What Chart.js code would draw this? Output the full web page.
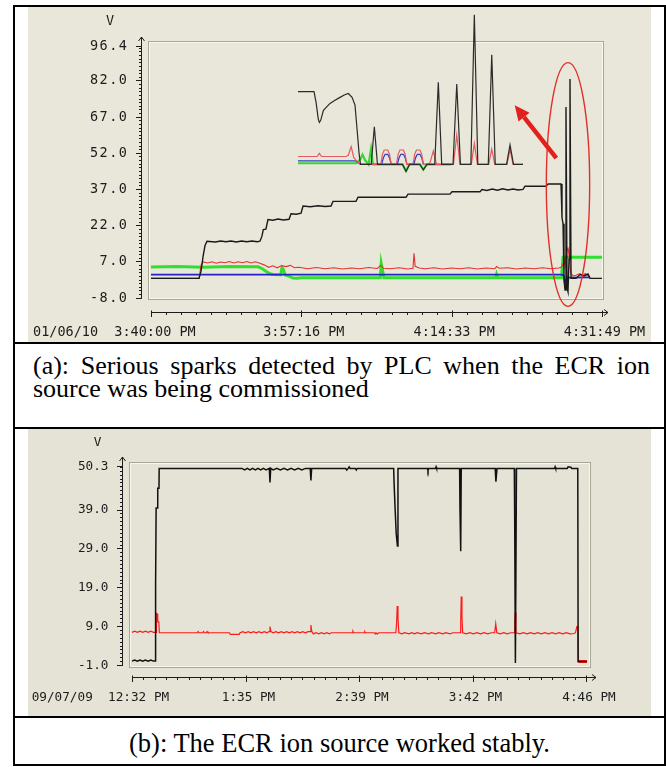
<!DOCTYPE html>
<html>
<head>
<meta charset="utf-8">
<script src="https://cdn.jsdelivr.net/npm/chart.js@4.4.0/dist/chart.umd.min.js"></script>
<style>
html, body { margin: 0; padding: 0; background: #fff; }
body { width: 666px; height: 767px; position: relative; overflow: hidden; }
.rule { position: absolute; background: #000; }
.panel { position: absolute; left: 28px; width: 623px; }
#panelA { top: 7px; height: 335px; background: #e9e7da; }
#panelB { top: 429px; height: 287px; background: #e4e3d5; }
.cap { position: absolute; font-family: "Liberation Serif", "Times New Roman", serif; color: #000; }
#capA { left: 33px; top: 355px; width: 617px; font-size: 26px; line-height: 22.5px; text-align: justify; text-align-last: left; }
#capB { left: 15px; top: 728px; width: 649px; font-size: 26.5px; line-height: 30px; text-align: center; }
</style>
</head>
<body>
<div class="rule" style="left:13px;top:5px;width:2px;height:761px"></div>
<div class="rule" style="left:664px;top:5px;width:2px;height:761px"></div>
<div class="rule" style="left:13px;top:5px;width:653px;height:2px"></div>
<div class="rule" style="left:13px;top:342px;width:653px;height:2px"></div>
<div class="rule" style="left:13px;top:427px;width:653px;height:2px"></div>
<div class="rule" style="left:13px;top:716px;width:653px;height:2px"></div>
<div class="rule" style="left:13px;top:764px;width:653px;height:2px"></div>

<div class="panel" id="panelA"><canvas id="chartA" width="623" height="335"></canvas></div>
<div class="cap" id="capA">(a): Serious sparks detected by PLC when the ECR ion source was being commissioned</div>
<div class="panel" id="panelB"><canvas id="chartB" width="623" height="287"></canvas></div>
<div class="cap" id="capB">(b): The ECR ion source worked stably.</div>

<script>
// ---- panel (a): minutes after 3:40:00 PM, volts ----
const dateA = "01/06/10";
const xTicksA = [0, 17.272, 34.544, 51.817];
const xLabelsA = ["3:40:00 PM", "3:57:16 PM", "4:14:33 PM", "4:31:49 PM"];
const yTicksA = [-8, 7, 22, 37, 52, 67, 82, 96.4];
const yLabelsA = ["-8.0", "7.0", "22.0", "37.0", "52.0", "67.0", "82.0", "96.4"];

const blackA = [[0,0],[5.52,0],[5.75,3],[5.98,9],[6.2,13.5],[6.43,15.4],[7.4,15.1],[8.0,15.5],[8.6,15.2],[9.2,15.5],
  [9.8,15.1],[10.4,15.5],[11.0,15.2],[11.6,15.5],[12.2,15.2],[12.52,15.4],[12.75,17.5],[12.9,20.2],[13.2,20.4],
  [13.44,24.4],[14.0,24.1],[14.6,24.6],[15.2,24.2],[15.86,24.5],[16.09,26.8],[16.7,26.6],[17.24,27.0],[17.47,30.0],
  [18.3,29.7],[19.2,30.1],[20.0,29.8],[20.68,30.0],[20.91,31.9],[23.55,31.9],[23.79,33.6],[29.3,33.6],[29.53,34.9],
  [34.35,34.9],[34.58,35.9],[37.8,35.9],[38.03,36.8],[38.6,36.4],[39.2,37.0],[39.8,36.5],[40.4,37.1],[41.0,36.6],
  [41.6,37.0],[42.2,36.6],[42.74,36.9],[42.97,38.2],[45.39,38.2],[45.62,39.1],[47.11,39.1],[47.22,25.2],[47.34,22.6],
  [47.45,-0.7],[47.57,-4.8],[47.68,71.0],[47.8,-4.0],[47.91,-5.5],[48.03,8.0],[48.14,82.6],[48.26,0],[48.83,0],
  [49.29,1.6],[49.75,1.0],[50.21,1.8],[50.44,0],[51.82,0]];
const redA = [[0,0],[5.52,0],[5.63,2.5],[5.75,5.5],[5.98,6.8],[6.5,6.4],[7.0,6.9],[7.5,6.3],[8.0,6.8],[8.5,6.5],[9.0,7.0],
  [9.5,6.4],[10.0,6.9],[10.5,6.5],[11.0,7.0],[11.5,6.4],[12.0,6.9],[12.5,6.3],[13.0,5.6],[13.5,4.6],[14.0,5.2],[14.5,4.4],
  [15.0,5.3],[15.5,4.9],[16.0,5.4],[16.5,4.4],[17.0,4.6],[18.0,4.0],[19.0,4.5],[20.0,4.0],[21.0,4.4],[22.0,3.9],[23.0,4.3],
  [24.0,4.0],[25.0,4.5],[26.0,4.1],[26.4,5.4],[26.7,4.2],[27.5,4.0],[28.5,4.4],[29.5,3.9],[30.1,4.2],[30.22,10.4],[30.35,5.0],
  [30.8,4.3],[31.5,4.0],[32.5,4.4],[33.5,3.9],[34.5,4.3],[35.5,4.0],[36.5,4.4],[37.5,3.9],[38.5,4.3],[39.5,4.0],[39.7,4.9],
  [40.0,4.2],[41.0,4.4],[42.0,3.9],[43.0,4.3],[44.0,4.0],[45.0,4.4],[46.0,4.0],[46.8,4.3],[47.11,4.5],[47.34,6.0],[47.45,9.0],
  [47.57,5.0],[47.8,12.0],[47.91,12.9],[48.03,9.5],[48.14,5.0],[48.26,2.0],[48.5,1.0],[48.83,1.3],[49.29,2.0],[49.6,1.0],
  [49.9,2.0],[50.21,1.2],[50.44,0.5]];
const blueA = [[0,1.6],[47.22,1.6],[47.45,1.0],[47.57,-2.5],[47.8,0.3],[50.44,0.4]];
const greenA = [[0,4.7],[3,4.9],[6,4.6],[9,4.9],[12.3,4.8],[12.75,4.1],[13.2,3.0],[13.6,2.0],[14.0,1.6],[14.9,1.5],[15.05,4.4],
  [15.2,3.8],[15.4,1.5],[15.9,0.8],[16.3,0.2],[16.8,0.1],[17.3,0.3],[26.35,0.3],[26.45,6.2],[26.6,3.5],[26.75,0.3],[39.6,0.3],
  [39.7,1.6],[39.8,0.3],[47.11,0.3],[47.22,3.0],[47.34,8.8],[51.82,8.8]];

// inset (zoomed view of the sparks), drawn in the same axes units
const insetBlack = [[16.89,77.4],[18.73,77.4],[18.96,73.0],[19.22,66.0],[19.34,64.6],[19.5,65.5],[19.8,69.5],[19.99,70.3],
  [20.57,72.5],[21.14,73.8],[21.72,75.0],[22.2,76.0],[22.67,76.6],[23.1,75.0],[23.44,71.8],[23.67,62.0],[23.9,52.0],
  [24.07,47.2],[25.3,47.2],[25.66,62.8],[26.02,47.2],[28.9,47.2],[29.3,44.3],[29.7,47.2],[30.9,47.2],[31.29,45.0],
  [31.7,47.2],[32.6,47.2],[33.01,81.2],[33.4,47.2],[34.7,47.2],[35.13,80.5],[35.55,47.2],[36.75,47.2],[37.15,109.2],
  [37.55,47.2],[38.75,47.2],[39.15,92.6],[39.55,47.2],[40.85,47.2],[41.25,55.3],[41.65,47.2],[42.74,47.2]];
const insetRed = [[16.89,50.5],[19.1,50.5],[19.34,51.8],[19.6,50.5],[22.4,50.5],[22.67,51.0],[23.0,54.6],[23.3,50.0],
  [23.67,48.5],[24.07,47.2],[26.4,47.2],[26.6,51.5],[26.8,53.2],[27.2,53.2],[27.4,51.5],[27.6,47.2],[28.2,47.2],[28.4,51.5],
  [28.6,53.2],[29.0,53.2],[29.2,51.5],[29.4,47.2],[30.1,47.2],[30.3,51.5],[30.5,53.2],[30.9,53.2],[31.1,51.5],[31.3,47.2],
  [32.0,47.2],[32.44,52.8],[32.8,47.2],[34.75,47.2],[35.13,59.4],[35.5,47.2],[36.8,47.2],[37.15,55.9],[37.5,47.2],
  [38.8,47.2],[39.15,53.6],[39.5,47.2],[40.9,47.2],[41.25,53.4],[41.6,47.2],[42.74,47.2]];
const insetBlue = [[16.89,48.7],[23.5,48.7],[24.07,47.2],[26.5,47.2],[26.7,50.0],[26.9,51.4],[27.2,51.4],[27.4,50.0],
  [27.6,47.2],[28.3,47.2],[28.5,50.0],[28.7,51.4],[29.0,51.4],[29.2,50.0],[29.4,47.2],[30.2,47.2],[30.4,50.0],[30.6,51.4],
  [30.9,51.4],[31.1,50.0],[31.3,47.2],[32.0,47.2]];
const insetGreen = [[16.89,47.7],[23.6,47.7],[24.07,49.5],[24.3,51.3],[24.6,49.0],[25.0,47.2],[25.28,53.6],[25.5,47.2],
  [28.9,47.2],[29.3,44.5],[29.7,47.2],[30.9,47.2],[31.29,45.0],[31.7,47.2],[34.5,47.2]];

// ---- panel (b): minutes after 12:32 PM, volts ----
const dateB = "09/07/09";
const xTicksB = [0, 63.5, 127, 190.5, 254];
const xLabelsB = ["12:32 PM", "1:35 PM", "2:39 PM", "3:42 PM", "4:46 PM"];
const yTicksB = [-1, 9, 19, 29, 39, 50.3];
const yLabelsB = ["-1.0", "9.0", "19.0", "29.0", "39.0", "50.3"];

const blackB = [[0,0],[1.5,0.3],[3,0],[4.5,0.3],[6,0],[7.5,0.3],[9,0],[10.5,0.3],[12,0],[12.87,0],[13.0,19.6],[13.4,19.6],
  [13.5,39.4],[14.3,39.4],[14.4,44.5],[15.1,44.5],[15.2,49.6],[61.5,49.6],[63,49.2],[64.5,49.6],[66,49.2],[67.5,49.6],
  [69,49.2],[70.5,49.6],[72,49.2],[73.5,49.6],[75,49.2],[76.8,49.6],[77.2,46.0],[77.6,49.6],[79,49.2],[81,49.6],[83,49.2],
  [85,49.6],[87,49.2],[89,49.6],[91,49.2],[93,49.6],[95,49.2],[97,49.6],[99.7,49.6],[100.1,46.5],[100.5,49.6],[119.5,49.6],
  [120.2,49.2],[120.9,49.6],[121.5,50.0],[122,49.6],[125,49.6],[125.5,49.2],[126,49.6],[146.4,49.6],[146.6,46.2],
  [147.2,39.3],[147.8,32.9],[148.5,29.6],[148.8,49.6],[165.3,49.6],[165.6,49.0],[165.9,49.6],[169.8,49.6],[170.1,50.0],
  [170.4,49.6],[183.3,49.6],[183.5,39.0],[183.9,28.3],[184.2,49.6],[203.2,49.6],[203.6,46.2],[204.2,49.6],[213.9,49.6],
  [214.1,37.2],[214.5,-0.5],[215.1,49.6],[236.4,49.6],[236.7,50.0],[237,49.6],[243.5,49.6],[244,50.0],[245.5,49.9],
  [246,49.6],[249.4,49.6],[249.6,-0.1],[254.5,-0.1]];
const redB = [[0,7.4],[1.5,7.7],[3,7.4],[4.5,7.7],[6,7.4],[7.5,7.7],[9,7.4],[10.5,7.7],[12,7.4],[13.5,7.4],[13.7,12.3],
  [14.2,12.1],[14.4,10.1],[15.0,10.1],[15.3,7.3],[36.5,7.3],[37,7.6],[37.5,7.3],[39.5,7.3],[40,7.6],[40.5,7.3],[41.5,7.3],
  [42,7.6],[42.5,7.3],[54.5,7.3],[55,6.9],[60,6.9],[60.5,7.3],[62,7.6],[63.5,7.3],[65,7.6],[66.5,7.3],[68,7.6],[69.5,7.3],
  [71,7.6],[72.5,7.3],[74,7.6],[75.5,7.3],[76.7,7.6],[77.2,8.9],[77.7,7.6],[79,7.3],[80.5,7.6],[82,7.3],[83.5,7.6],[85,7.3],
  [86.5,7.6],[88,7.3],[89.5,7.6],[91,7.3],[92.5,7.6],[94,7.3],[95.5,7.6],[97,7.3],[98.5,7.6],[99.6,7.6],[100.1,9.3],
  [100.6,7.6],[101.5,7.0],[103,7.3],[104.5,7.0],[106,7.3],[107.5,7.0],[109,7.3],[110.5,7.0],[111.5,7.3],[123.2,7.3],
  [123.6,7.7],[124,7.3],[129.8,7.3],[130.2,7.6],[130.6,7.3],[135.5,7.3],[136,7.0],[136.5,7.3],[137.5,7.0],[138,7.3],
  [147.6,7.3],[148.0,9.5],[148.4,14.2],[148.8,11.0],[149.3,7.3],[151,7.0],[152.5,7.3],[155,7.0],[156.5,7.3],[158,7.0],
  [159.5,7.3],[162,7.0],[163.5,7.3],[166,7.0],[167.5,7.3],[170,7.0],[171.5,7.3],[174,7.0],[175.5,7.3],[178,7.0],[179.5,7.3],
  [183.6,7.3],[183.9,10.0],[184.2,16.6],[184.6,11.5],[185.0,7.3],[187,7.0],[189,7.3],[191,7.0],[193,7.3],[195,7.0],[197,7.3],
  [199,7.0],[201,7.3],[202.9,7.3],[203.5,9.6],[204.1,7.3],[206,7.0],[208,7.3],[210,7.0],[212,7.3],[213.8,7.3],[214.1,10.0],
  [214.4,12.5],[214.8,7.3],[217,7.0],[219,7.3],[221,7.0],[223,7.3],[225,7.0],[227,7.3],[229,7.0],[231,7.3],[233,7.0],
  [235,7.3],[237,7.0],[239,7.3],[241,7.0],[243,7.3],[245,7.0],[247.6,7.1],[248.2,7.5],[248.9,8.9],[249.4,8.9],[249.6,-0.1],
  [254.5,-0.1]];

const pts = arr => arr.map(p => ({ x: p[0], y: p[1] }));

// axes drawn in the style of the SCADA trend window, positioned from the chart scales
const frame = {
  id: "frame",
  beforeDatasetsDraw(chart, args, o) {
    const { ctx, chartArea: a } = chart;
    const sx = chart.scales.x, sy = chart.scales.y;
    ctx.save();
    const L = Math.round(a.left - o.box[0]), T = Math.round(a.top - o.box[1]);
    const R = Math.round(a.right + o.box[2]), B = Math.round(a.bottom + o.box[3]);
    ctx.lineWidth = 1;
    ctx.strokeStyle = "#a7a697";
    ctx.strokeRect(L + 0.5, T + 0.5, R - L, B - T);
    ctx.strokeStyle = "#f8f7f0";
    ctx.strokeRect(L + 1.5, T + 1.5, R - L - 2, B - T - 2);

    ctx.strokeStyle = "#1c1c1c";
    ctx.fillStyle = "#1c1c1c";
    ctx.font = o.fontSize + "px 'DejaVu Sans Mono', monospace";

    // y axis
    const ax = Math.round(a.left - o.yGap) + 0.5;
    const yTop = a.top - o.arrowTop;
    ctx.beginPath();
    ctx.moveTo(ax, a.bottom + 1);
    ctx.lineTo(ax, yTop);
    ctx.moveTo(ax - 3, yTop + 4); ctx.lineTo(ax, yTop); ctx.lineTo(ax + 3, yTop + 4);
    for (let k = 0; ; k++) {
      const v = sy.min + k * o.yMinor;
      if (v > sy.max + 1e-6) break;
      const p = Math.round(sy.getPixelForValue(v)) + 0.5;
      ctx.moveTo(ax - 2.5, p); ctx.lineTo(ax, p);
    }
    o.yTicks.forEach(v => {
      const p = Math.round(sy.getPixelForValue(v)) + 0.5;
      ctx.moveTo(ax - 5.5, p); ctx.lineTo(ax, p);
    });
    ctx.stroke();
    ctx.textAlign = "right";
    ctx.textBaseline = "middle";
    ctx.letterSpacing = o.yLetter + "px";
    o.yTicks.forEach((v, i) => ctx.fillText(o.yLabels[i], ax - o.yLabelGap + o.yLetter, sy.getPixelForValue(v) + 0.5));
    ctx.letterSpacing = "0px";
    ctx.textAlign = "center";
    ctx.fillText("V", ax + o.vPos[0], a.top + o.vPos[1]);

    // x axis
    const ay = Math.round(a.bottom + o.xGap) + 0.5;
    const xEnd = a.right + o.xArrow;
    ctx.beginPath();
    ctx.moveTo(a.left, ay); ctx.lineTo(xEnd, ay);
    ctx.moveTo(xEnd - 4, ay - 3); ctx.lineTo(xEnd, ay); ctx.lineTo(xEnd - 4, ay + 3);
    const step = (o.xTicks[1] - o.xTicks[0]) / o.xMinor;
    for (let k = 0; ; k++) {
      const v = sx.min + k * step;
      if (v > sx.max + 1e-6) break;
      const p = Math.round(sx.getPixelForValue(v)) + 0.5;
      ctx.moveTo(p, ay); ctx.lineTo(p, ay + 2.5);
    }
    o.xTicks.forEach(v => {
      const p = Math.round(sx.getPixelForValue(v)) + 0.5;
      ctx.moveTo(p, ay - 2); ctx.lineTo(p, ay + 4.5);
    });
    ctx.stroke();
    const ly = ay + o.xLabelDy;
    o.xTicks.forEach((v, i) => {
      const txt = o.xLabels[i];
      if (i === 0) {
        const p = sx.getPixelForValue(v) + o.xLabelDx0;
        const w = ctx.measureText(txt).width;
        ctx.textAlign = "right";
        ctx.fillText(o.date + "  " + txt, p + w / 2, ly);
        ctx.textAlign = "center";
      } else {
        ctx.fillText(txt, sx.getPixelForValue(v) + o.xLabelDx, ly);
      }
    });
    ctx.restore();
  }
};

// red ellipse + arrow of panel (a), placed in data units
const marks = {
  id: "marks",
  afterDatasetsDraw(chart, args, o) {
    if (!o.ellipse) return;
    const { ctx } = chart;
    const x = chart.scales.x, y = chart.scales.y;
    const e = o.ellipse;
    const cx = x.getPixelForValue(e.t), cy = y.getPixelForValue(e.v);
    const rx = x.getPixelForValue(e.t + e.dt) - cx;
    const ry = cy - y.getPixelForValue(e.v + e.dv);
    ctx.save();
    ctx.strokeStyle = "#e0302a";
    ctx.lineWidth = 1.4;
    ctx.beginPath();
    ctx.ellipse(cx, cy, rx, ry, 0, 0, Math.PI * 2);
    ctx.stroke();

    const ar = o.arrow;
    const x0 = x.getPixelForValue(ar.from[0]), y0 = y.getPixelForValue(ar.from[1]);
    const x1 = x.getPixelForValue(ar.to[0]), y1 = y.getPixelForValue(ar.to[1]);
    const ang = Math.atan2(y1 - y0, x1 - x0);
    const hl = 15, hw = 7;
    const bx = x1 - hl * Math.cos(ang), by = y1 - hl * Math.sin(ang);
    ctx.strokeStyle = ctx.fillStyle = "#e3201b";
    ctx.lineWidth = 4.5;
    ctx.beginPath(); ctx.moveTo(x0, y0); ctx.lineTo(bx, by); ctx.stroke();
    ctx.beginPath();
    ctx.moveTo(x1, y1);
    ctx.lineTo(bx + hw * Math.sin(ang), by - hw * Math.cos(ang));
    ctx.lineTo(bx - hw * Math.sin(ang), by + hw * Math.cos(ang));
    ctx.closePath();
    ctx.fill();
    ctx.restore();
  }
};

function line(label, data, color, width) {
  return { label, data: pts(data), borderColor: color, borderWidth: width, pointRadius: 0, tension: 0, clip: false };
}

new Chart(document.getElementById("chartA"), {
  type: "line",
  data: {
    datasets: [
      line("inset black", insetBlack, "#2a2a2a", 1.2),
      line("inset red", insetRed, "#e65a5a", 1.2),
      line("inset blue", insetBlue, "#3a3ad0", 1.3),
      line("inset green", insetGreen, "#35d635", 2.2),
      line("black", blackA, "#1a1a1a", 1.4),
      line("red", redA, "#e8302c", 1.1),
      line("blue", blueA, "#2323c8", 1.8),
      line("green", greenA, "#2fe02f", 3)
    ]
  },
  options: {
    responsive: false,
    animation: false,
    events: [],
    layout: { padding: { left: 123, right: 49, top: 38.7, bottom: 44.3 } },
    scales: {
      x: { type: "linear", min: 0, max: 51.817, display: false },
      y: { type: "linear", min: -8, max: 96.4, display: false }
    },
    plugins: {
      legend: { display: false },
      tooltip: { enabled: false },
      frame: {
        fontSize: 13.5, box: [3, 4.7, 1, 1.3], yGap: 10, arrowTop: 8.7, xGap: 14, xArrow: 6,
        yTicks: yTicksA, yLabels: yLabelsA, yMinor: 1.5, yLabelGap: 14.5, yLetter: 1.5, vPos: [-31.5, -24.7],
        xTicks: xTicksA, xLabels: xLabelsA, xMinor: 10, date: dateA, xLabelDx: 2.5, xLabelDx0: 4, xLabelDy: 19.5
      },
      marks: {
        ellipse: { t: 47.91, v: 38.9, dt: 2.49, dv: 50.5 },
        arrow: { from: [46.57, 49.8], to: [41.79, 71.7] }
      }
    }
  },
  plugins: [frame, marks]
});

new Chart(document.getElementById("chartB"), {
  type: "line",
  data: {
    datasets: [
      line("black", blackB, "#111111", 1.5),
      Object.assign(line("red", redB, "#ff1a1a", 1.2), {
        segment: { borderWidth: c => (c.p0.parsed.x >= 249.5 ? 3 : 1.2) }
      })
    ]
  },
  options: {
    responsive: false,
    animation: false,
    events: [],
    layout: { padding: { left: 104, right: 65, top: 36.7, bottom: 51 } },
    scales: {
      x: { type: "linear", min: 0, max: 254, display: false },
      y: { type: "linear", min: -1, max: 50.3, display: false }
    },
    plugins: {
      legend: { display: false },
      tooltip: { enabled: false },
      frame: {
        fontSize: 12.7, box: [3, 4, 4, 1.7], yGap: 10.3, arrowTop: 8.7, xGap: 12, xArrow: 10,
        yTicks: yTicksB, yLabels: yLabelsB, yMinor: 1, yLabelGap: 14, yLetter: 0, vPos: [-25, -23.2],
        xTicks: xTicksB, xLabels: xLabelsB, xMinor: 10, date: dateB, xLabelDx: 3, xLabelDx0: 6.6, xLabelDy: 20.5
      },
      marks: {}
    }
  },
  plugins: [frame, marks]
});
</script>
</body>
</html>
